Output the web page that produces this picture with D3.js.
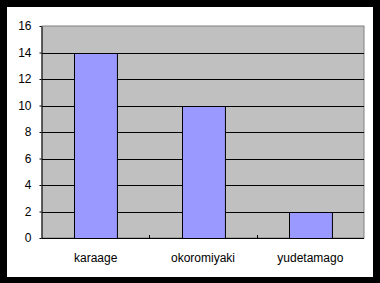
<!DOCTYPE html>
<html>
<head>
<meta charset="utf-8">
<script src="https://cdn.jsdelivr.net/npm/d3@7"></script>
<style>
  html, body { margin: 0; padding: 0; background: #000; }
  text { font-family: "Liberation Sans", Arial, sans-serif; font-size: 12px; fill: #000; }
</style>
</head>
<body>
<div id="chart"></div>
<script>
const categories = ["karaage", "okoromiyaki", "yudetamago"];
const values = [14, 10, 2];
const yTicks = [0, 2, 4, 6, 8, 10, 12, 14, 16];

const width = 380, height = 283;
const margin = { top: 26, right: 16, bottom: 45, left: 42 };

const svg = d3.select("#chart").append("svg")
    .attr("width", width)
    .attr("height", height);

// black frame with white chart area
svg.append("rect").attr("width", width).attr("height", height).attr("fill", "#000");
svg.append("rect")
    .attr("x", 7).attr("y", 7)
    .attr("width", 366).attr("height", 270)
    .attr("fill", "#fff");

const x = d3.scaleBand()
    .domain(categories)
    .range([margin.left, width - margin.right])
    .paddingInner(0.6)
    .paddingOuter(0.3);

const y = d3.scaleLinear()
    .domain([0, 16])
    .range([height - margin.bottom, margin.top]);

const x0 = margin.left, x1 = width - margin.right;
const y0 = y(0), y1 = y(16);

// plot background
svg.append("rect")
    .attr("x", x0).attr("y", y1)
    .attr("width", x1 - x0).attr("height", y0 - y1)
    .attr("fill", "#c0c0c0")
    .attr("stroke", "#808080")
    .attr("stroke-width", 1);

// gridlines
svg.append("g")
    .selectAll("line")
    .data(yTicks.filter(d => d > 0 && d < 16))
    .enter().append("line")
    .attr("x1", x0).attr("x2", x1)
    .attr("y1", d => Math.round(y(d)) + 0.5)
    .attr("y2", d => Math.round(y(d)) + 0.5)
    .attr("stroke", "#000");

// bars
svg.append("g")
    .selectAll("rect")
    .data(values)
    .enter().append("rect")
    .attr("x", (d, i) => Math.round(x(categories[i])) + 0.5)
    .attr("y", d => Math.round(y(d)) + 0.5)
    .attr("width", x.bandwidth())
    .attr("height", d => Math.round(y0) - Math.round(y(d)))
    .attr("fill", "#9999ff")
    .attr("stroke", "#000");

// y axis
const yAxis = d3.axisLeft(y)
    .tickValues(yTicks)
    .tickSize(2)
    .tickPadding(8)
    .tickSizeOuter(0);
const gy = svg.append("g")
    .attr("transform", `translate(${x0 - 0.5},0)`)
    .call(yAxis);
gy.select(".domain").attr("stroke", "#000");
gy.selectAll("text").style("font-size", "12px").style("font-family", "Liberation Sans, Arial, sans-serif");

// x axis
const step = (x1 - x0) / categories.length;
svg.append("line")
    .attr("x1", x0 - 0.5).attr("x2", x1)
    .attr("y1", Math.round(y0) + 0.5).attr("y2", Math.round(y0) + 0.5)
    .attr("stroke", "#000");
svg.append("g")
    .selectAll("line")
    .data(d3.range(1, categories.length))
    .enter().append("line")
    .attr("x1", i => Math.round(x0 + i * step) + 0.5)
    .attr("x2", i => Math.round(x0 + i * step) + 0.5)
    .attr("y1", Math.round(y0))
    .attr("y2", Math.round(y0) - 3)
    .attr("stroke", "#000");

svg.append("g")
    .selectAll("text")
    .data(categories)
    .enter().append("text")
    .attr("x", d => x(d) + x.bandwidth() / 2)
    .attr("y", 262)
    .attr("text-anchor", "middle")
    .text(d => d);
</script>
</body>
</html>
